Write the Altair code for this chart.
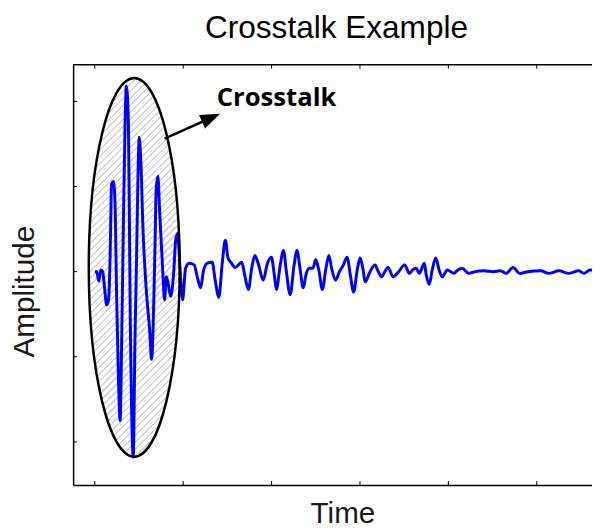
import altair as alt
import pandas as pd

# ---- signal (time in arbitrary units, tick every 10; amplitude, tick every 1)
TIME = [
    0.00, 0.22, 0.45, 0.67, 0.89, 1.12, 1.34, 1.56, 1.73, 1.90,
    2.12, 2.31, 2.46, 2.68, 2.87, 3.01, 3.24, 3.43, 3.57, 3.80,
    3.91, 4.02, 4.16, 4.35, 4.54, 4.72, 4.91, 5.02, 5.21, 5.47,
    5.80, 6.22, 6.42, 6.78, 6.95, 7.14, 7.33, 7.70, 7.89, 8.09,
    8.26, 8.59, 8.93, 9.15, 9.38, 9.60, 9.93, 10.27, 10.68, 11.24,
    11.61, 11.98, 12.28, 12.72, 13.28, 13.62, 14.03, 14.40, 14.77, 15.07,
    15.40, 15.88, 16.63, 16.96, 17.38, 17.75, 18.11, 18.53, 19.05, 19.53,
    19.98, 20.31, 20.54, 20.98, 21.35, 21.65, 22.10, 22.55, 22.88, 23.21,
    23.58, 23.88, 24.25, 24.67, 25.00, 25.34, 25.75, 26.12, 26.48, 26.79,
    27.23, 27.68, 28.13, 28.54, 28.91, 29.28, 29.69, 30.02, 30.36, 30.58,
    31.14, 31.70, 32.03, 32.44, 32.81, 33.18, 33.74, 34.38, 35.05, 35.60,
    35.94, 36.35, 36.72, 37.28, 37.50, 37.84, 38.17, 38.58, 38.95, 39.32,
    39.88, 40.63, 41.07, 41.55, 42.30, 43.05, 43.97, 45.09, 45.87, 46.54,
    47.32, 48.07, 49.00, 50.45, 51.34, 52.53, 53.57, 54.77, 55.36, 56.03,
    56.25,
]
AMP = [
    0.00, 0.00, -0.11, 0.02, 0.00, -0.21, -0.39, -0.33, 0.17, 1.03,
    1.06, 0.72, -0.25, -1.28, -1.75, -1.02, 0.63, 1.76, 2.18, 1.76,
    0.63, -0.64, -1.60, -2.18, -0.83, 0.14, 1.26, 1.58, 1.29, 0.45,
    -0.18, -0.71, -1.03, 0.14, 0.98, 1.12, 0.72, -0.02, -0.33, -0.06,
    -0.12, -0.29, 0.00, 0.37, 0.45, 0.11, -0.33, 0.04, 0.10, 0.08,
    -0.07, -0.19, 0.00, 0.10, 0.11, -0.10, -0.30, 0.08, 0.37, 0.16,
    0.11, 0.05, 0.11, -0.04, -0.21, 0.04, 0.19, 0.08, -0.10, 0.10,
    0.17, -0.04, -0.21, 0.08, 0.25, 0.02, -0.27, 0.08, 0.25, 0.04,
    -0.19, -0.04, 0.04, 0.04, 0.14, 0.02, -0.21, 0.02, 0.19, 0.04,
    -0.10, 0.00, 0.08, 0.17, -0.04, -0.24, 0.02, 0.16, 0.02, -0.12,
    0.00, 0.08, 0.01, -0.06, 0.00, 0.05, -0.06, 0.00, 0.08, -0.02,
    0.02, 0.04, -0.02, 0.10, -0.04, -0.15, 0.02, 0.16, 0.02, -0.06,
    0.02, -0.02, 0.02, 0.04, -0.02, 0.00, 0.01, 0.00, 0.01, -0.02,
    0.05, -0.02, 0.00, 0.01, -0.02, 0.01, -0.02, 0.01, -0.02, 0.02,
    0.02,
]

X_TICKS = [0, 10, 20, 30, 40, 50]
Y_TICKS = [-2, -1, 0, 1, 2]
X_DOMAIN = [-2.455, 56.25]
Y_DOMAIN = [-2.506, 2.43]

# annotation anchors (data coordinates)
ELLIPSE_T, ELLIPSE_A = [4.46], [0.05]
ARROW_T, ARROW_A = [7.89, 13.15], [1.564, 1.807]
HEAD_T, HEAD_A = [13.15], [1.807]
LABEL_T, LABEL_A, LABEL_TEXT = [13.8], [1.951], ["Crosstalk"]
TITLE = "Crosstalk Example"

W, H = 526, 426
FONT = "Liberation Sans"

# ---- ellipse shape (unit path, ry = 1, rx = 0.24) drawn via Bezier arcs
RX = 0.24
K = round(RX * 0.5523, 4)
ELLIPSE_PATH = (
    f"M0,-1 C{K},-1 {RX},-0.5523 {RX},0 C{RX},0.5523 {K},1 0,1 "
    f"C{-K},1 {-RX},0.5523 {-RX},0 C{-RX},-0.5523 {-K},-1 0,-1 Z"
)
ELL_H = 384
ELL_SIZE = ELL_H ** 2

# hatch fill as a striped linear gradient (45 degrees)
w_px, h_px = 2 * RX * ELL_H / 2, ELL_H
gx, gy = 0.26, 1.08
gnorm = ((gx / w_px) ** 2 + (gy / h_px) ** 2) ** 0.5
dt = 5.0 * gnorm / (gx * gx + gy * gy)
stops = []
k = 0
while (k + 1) * dt <= 1.0:
    s = k * dt
    m = s + 0.7 * dt
    e = s + dt
    stops += [
        alt.GradientStop(offset=round(s, 5), color="#ffffff"),
        alt.GradientStop(offset=round(m, 5), color="#ffffff"),
        alt.GradientStop(offset=round(m, 5), color="#d6d6d6"),
        alt.GradientStop(offset=round(e, 5), color="#d6d6d6"),
    ]
    k += 1
HATCH = alt.LinearGradient(gradient="linear", stops=stops, x1=0, y1=0, x2=gx, y2=gy)

xscale = alt.Scale(domain=X_DOMAIN, nice=False, zero=False)
yscale = alt.Scale(domain=Y_DOMAIN, nice=False, zero=False)
xaxis = alt.Axis(
    labels=False, ticks=False, grid=False, domain=True,
    domainColor="black", domainWidth=1.5,
    title="Time", titleFont=FONT, titleFontSize=30, titleFontWeight="normal",
    titleColor="#1a1a1a", titleX=273, titleY=38, titleBaseline="alphabetic",
    titleAlign="center",
)
yaxis = alt.Axis(
    labels=False, ticks=False, grid=False, domain=True,
    domainColor="black", domainWidth=1.5,
    title="Amplitude", titleFont=FONT, titleFontSize=30, titleFontWeight="normal",
    titleColor="#1a1a1a", titleX=-40, titleY=229.5, titleAngle=270,
    titleBaseline="alphabetic", titleAlign="center",
)


def X(field="t"):
    return alt.X(f"{field}:Q", scale=xscale, axis=xaxis)


def Y(field="a"):
    return alt.Y(f"{field}:Q", scale=yscale, axis=yaxis)


sig = pd.DataFrame({"t": TIME, "a": AMP})
ell = pd.DataFrame({"t": ELLIPSE_T, "a": ELLIPSE_A})
arrow = pd.DataFrame({"t": ARROW_T, "a": ARROW_A})
head = pd.DataFrame({"t": HEAD_T, "a": HEAD_A})
label = pd.DataFrame({"t": LABEL_T, "a": LABEL_A, "txt": LABEL_TEXT})
xt = pd.DataFrame({"t": X_TICKS})
yt = pd.DataFrame({"a": Y_TICKS})
frame_top = pd.DataFrame({"t": [X_DOMAIN[0]], "t2": [X_DOMAIN[1]], "a": [Y_DOMAIN[1]]})

ell_fill = alt.Chart(ell).mark_point(
    shape=ELLIPSE_PATH, size=ELL_SIZE, filled=True, fill=HATCH,
    strokeWidth=0, opacity=1,
).encode(x=X(), y=Y())

line = alt.Chart(sig).mark_line(
    color="#0000ff", strokeWidth=3, interpolate="monotone"
).encode(x=X(), y=Y(), order="t:Q")

ell_stroke = alt.Chart(ell).mark_point(
    shape=ELLIPSE_PATH, size=ELL_SIZE, filled=False, stroke="black",
    strokeWidth=2.5, opacity=1,
).encode(x=X(), y=Y())

arrow_line = alt.Chart(arrow).mark_line(color="black", strokeWidth=2.5).encode(
    x=X(), y=Y()
)
arrow_head = alt.Chart(head).mark_point(
    shape="M1,0 L-1,-0.75 L-1,0.75 Z", size=400, filled=True,
    color="black", angle=336, opacity=1, strokeWidth=0,
).encode(x=X(), y=Y())

label_txt = alt.Chart(label).mark_text(
    font="Open Sans", fontWeight="bold", fontSize=26, align="left",
    baseline="alphabetic", color="black",
).encode(x=X(), y=Y(), text="txt:N")

bottom_ticks = alt.Chart(xt).mark_rule(color="black", strokeWidth=1).encode(
    x=X(), y=alt.value(H), y2=alt.value(H - 4)
)
top_ticks = alt.Chart(xt).mark_rule(color="black", strokeWidth=1).encode(
    x=X(), y=alt.value(0), y2=alt.value(4)
)
left_ticks = alt.Chart(yt).mark_rule(color="black", strokeWidth=1).encode(
    y=Y(), x=alt.value(0), x2=alt.value(4)
)
top_line = alt.Chart(frame_top).mark_rule(color="black", strokeWidth=1.5).encode(
    x=X(), x2="t2:Q", y=Y()
)

chart = alt.layer(
    ell_fill, line, ell_stroke, arrow_line, arrow_head, label_txt,
    bottom_ticks, top_ticks, left_ticks, top_line,
).properties(
    width=W,
    height=H,
    title=alt.TitleParams(
        text=TITLE, font=FONT, fontSize=32, fontWeight="normal", color="black",
        anchor="middle", offset=22, dx=4, dy=28, baseline="alphabetic",
    ),
    autosize=alt.AutoSizeParams(type="none"),
    padding={"left": 66, "top": 54, "right": 0, "bottom": 40},
).configure_view(stroke=None)

chart.save("out.html", embed_options={"renderer": "svg", "actions": False})
